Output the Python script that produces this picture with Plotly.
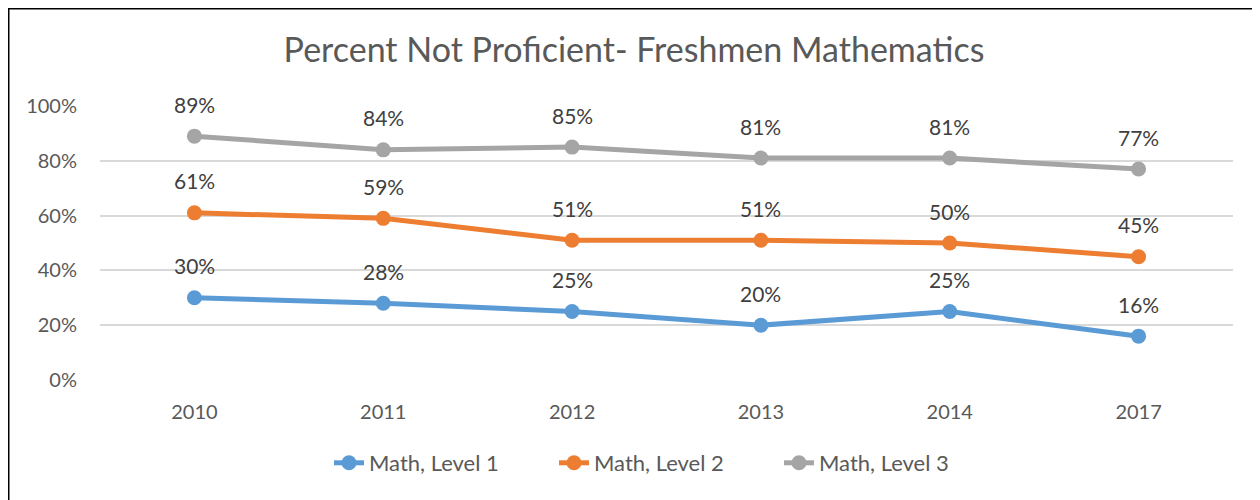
import plotly.graph_objects as go

years = ["2010", "2011", "2012", "2013", "2014", "2017"]
level1 = [0.30, 0.28, 0.25, 0.20, 0.25, 0.16]
level2 = [0.61, 0.59, 0.51, 0.51, 0.50, 0.45]
level3 = [0.89, 0.84, 0.85, 0.81, 0.81, 0.77]

series = [
    ("Math, Level 1", level1, "#5B9BD5"),
    ("Math, Level 2", level2, "#ED7D31"),
    ("Math, Level 3", level3, "#A5A5A5"),
]

FONT = "Lato, Carlito, Calibri, sans-serif"
# page has an 8px body margin, so the figure is a bit smaller than the window
W, H = 1252, 492
ML, MR, MT, MB = 92, 27, 98, 120

fig = go.Figure()
for name, vals, color in series:
    fig.add_trace(go.Scatter(
        x=years, y=vals, name=name, mode="lines+markers",
        line=dict(color=color, width=5),
        marker=dict(color=color, size=15),
        hoverinfo="skip",
    ))
    # data labels above each point (category index as x)
    for i, v in enumerate(vals):
        fig.add_annotation(
            x=i, y=v, text=f"{round(v * 100)}%", showarrow=False,
            yshift=32, font=dict(family=FONT, size=21, color="#404040"),
        )

# border (left + top)
pw, ph = W - ML - MR, H - MT - MB
bx = (0 - ML) / pw
by = 1 + (MT - 0) / ph
fig.add_shape(type="line", xref="paper", yref="paper", x0=bx, x1=bx, y0=by, y1=-MB / ph - 0.1,
              line=dict(color="black", width=3))
fig.add_shape(type="line", xref="paper", yref="paper", x0=bx, x1=(W - ML) / pw + 0.1, y0=by, y1=by,
              line=dict(color="black", width=3))

fig.update_layout(
    width=W, height=H,
    margin=dict(l=ML, r=MR, t=MT, b=MB),
    paper_bgcolor="white", plot_bgcolor="white",
    title=dict(text="Percent Not Proficient- Freshmen Mathematics", x=0.5, xanchor="center",
               y=1 - 42 / H, yanchor="middle",
               font=dict(family=FONT, size=34, color="#595959")),
    font=dict(family=FONT, color="#595959"),
    xaxis=dict(type="category", range=[-0.5, 5.5], showgrid=False, zeroline=False,
               showline=False, ticks="", tickfont=dict(size=20, color="#595959"),
               ticklabelstandoff=18),
    yaxis=dict(range=[0, 1], tickvals=[0, 0.2, 0.4, 0.6, 0.8, 1.0], tickformat=".0%",
               showgrid=True, gridcolor="#D9D9D9", gridwidth=1.5, zeroline=False,
               showline=False, ticks="", tickfont=dict(size=20, color="#595959"),
               ticklabelstandoff=22),
    legend=dict(orientation="h", x=0.5, xanchor="center", y=-(455 - (H - MB)) / ph, yanchor="middle",
                font=dict(family=FONT, size=22, color="#595959"),
                entrywidth=180, traceorder="normal"),
    showlegend=True,
)

fig.write_html("out.html")
